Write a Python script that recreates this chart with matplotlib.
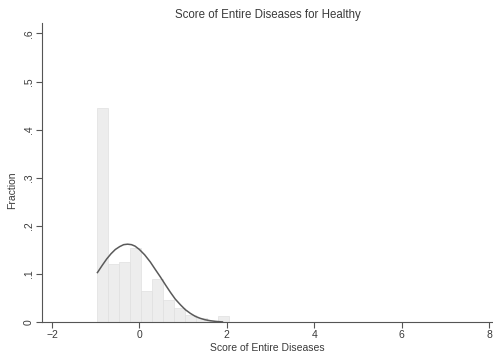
import numpy as np
import matplotlib
matplotlib.use('Agg')
import matplotlib.pyplot as plt

# histogram (left bin edges, bin width, fraction)
bin_left = [-0.96, -0.71, -0.46, -0.21, 0.04, 0.29, 0.54, 0.79, 1.04, 1.29, 1.54, 1.79]
bin_width = 0.25
fraction = [0.445, 0.12, 0.125, 0.155, 0.065, 0.09, 0.045, 0.03, 0.015, 0.008, 0.003, 0.012]

# normal overlay
curve_x = [-0.96, -0.85, -0.75, -0.65, -0.55, -0.45, -0.36, -0.27, -0.18, -0.1, 0.0,
           0.12, 0.25, 0.36, 0.48, 0.6, 0.71, 0.82, 0.94, 1.05, 1.17, 1.28, 1.39,
           1.5, 1.62, 1.75, 1.9]
curve_y = [0.103, 0.118, 0.131, 0.142, 0.151, 0.157, 0.161, 0.162, 0.161, 0.158, 0.151,
           0.140, 0.125, 0.110, 0.094, 0.077, 0.062, 0.048, 0.036, 0.026, 0.018, 0.012, 0.008,
           0.005, 0.003, 0.0015, 0.0005]

x_ticks = [-2, 0, 2, 4, 6, 8]
y_ticks = [0, 0.1, 0.2, 0.3, 0.4, 0.5, 0.6]
y_tick_labels = ['0', '.1', '.2', '.3', '.4', '.5', '.6']

plt.rcParams['font.family'] = ['Liberation Sans', 'DejaVu Sans']
text_color = '#3a3a3a'

fig = plt.figure(figsize=(4.93, 3.64), dpi=100)
ax = fig.add_axes([0.085, 0.115, 0.915, 0.821])

ax.bar(bin_left, fraction, width=bin_width, align='edge',
       color='#ededed', edgecolor='#e0e0e0', linewidth=0.5, zorder=1)
ax.plot(curve_x, curve_y, color='#5a5a5a', linewidth=1.1, zorder=2)

ax.set_xlim(-2.23, 8.09)
ax.set_ylim(0, 0.621)
ax.set_xticks(x_ticks)
ax.set_yticks(y_ticks)
ax.set_yticklabels(y_tick_labels, rotation=90, va='center')

for side in ['top', 'right']:
    ax.spines[side].set_visible(False)
for side in ['left', 'bottom']:
    ax.spines[side].set_color('#555555')
    ax.spines[side].set_linewidth(0.8)

ax.tick_params(direction='out', length=4, width=0.8, color='#555555',
               labelsize=7.5, labelcolor=text_color, pad=2)

ax.set_xlabel('Score of Entire Diseases', fontsize=7.5, color=text_color, labelpad=2)
ax.set_ylabel('Fraction', fontsize=7.5, color=text_color)
ax.yaxis.set_label_coords(-0.055, 0.44)
ax.set_title('Score of Entire Diseases for Healthy', fontsize=8.3, color=text_color, pad=4)

fig.savefig('out.png', dpi=100, facecolor='white')
